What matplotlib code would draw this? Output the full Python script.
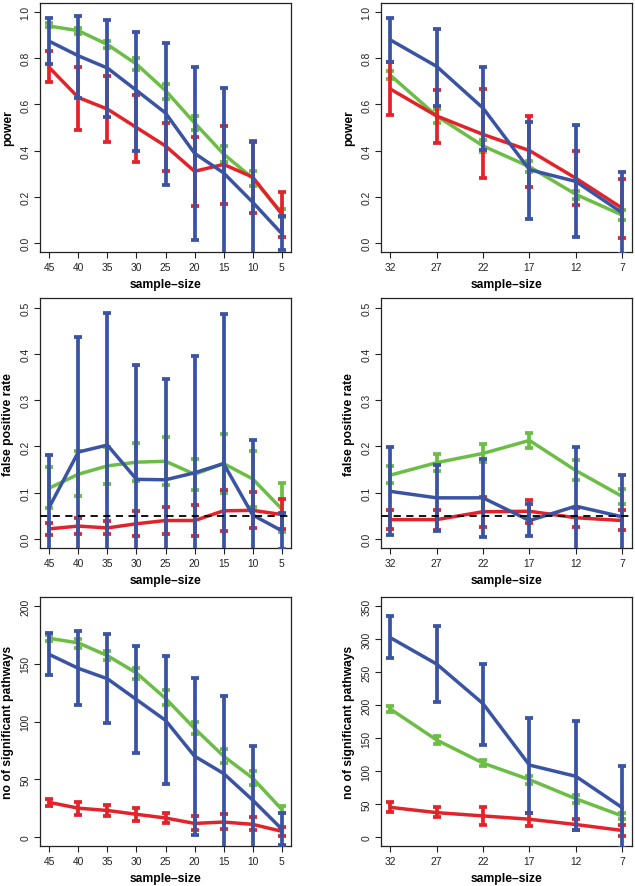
import numpy as np
import matplotlib
matplotlib.use("Agg")
import matplotlib.pyplot as plt

plt.rcParams['font.family'] = ['Liberation Sans', 'DejaVu Sans']

GREEN = '#6cbd45'
RED = '#e3232a'
BLUE = '#3a53a3'

## sample sizes ##
n_left = ['45', '40', '35', '30', '25', '20', '15', '10', '5']
n_right = ['32', '27', '22', '17', '12', '7']

## power, left ##
pwL_green = [0.94, 0.92, 0.86, 0.775, 0.66, 0.52, 0.385, 0.28, 0.13]
pwL_green_hi = [0.952, 0.93, 0.875, 0.80, 0.69, 0.55, 0.42, 0.31, 0.148]
pwL_green_lo = [0.934, 0.905, 0.845, 0.75, 0.625, 0.49, 0.35, 0.245, 0.11]
pwL_red = [0.76, 0.63, 0.58, 0.50, 0.42, 0.31, 0.34, 0.285, 0.125]
pwL_red_hi = [0.83, 0.762, 0.724, 0.639, 0.519, 0.46, 0.508, 0.44, 0.22]
pwL_red_lo = [0.696, 0.49, 0.436, 0.351, 0.313, 0.159, 0.17, 0.13, 0.023]
pwL_blue = [0.874, 0.811, 0.758, 0.661, 0.563, 0.388, 0.303, 0.176, 0.04]
pwL_blue_hi = [0.973, 0.985, 0.967, 0.915, 0.866, 0.763, 0.671, 0.436, 0.115]
pwL_blue_lo = [0.776, 0.63, 0.545, 0.40, 0.251, 0.012, -0.07, -0.085, -0.033]

## power, right ##
pwR_green = [0.727, 0.55, 0.42, 0.33, 0.21, 0.12]
pwR_green_hi = [0.745, 0.58, 0.444, 0.355, 0.225, 0.144]
pwR_green_lo = [0.711, 0.52, 0.392, 0.307, 0.192, 0.098]
pwR_red = [0.667, 0.55, 0.47, 0.40, 0.28, 0.15]
pwR_red_hi = [0.784, 0.664, 0.667, 0.548, 0.397, 0.276]
pwR_red_lo = [0.553, 0.431, 0.279, 0.244, 0.165, 0.02]
pwR_blue = [0.88, 0.765, 0.584, 0.317, 0.266, 0.13]
pwR_blue_hi = [0.973, 0.926, 0.762, 0.525, 0.51, 0.309]
pwR_blue_lo = [0.786, 0.592, 0.404, 0.105, 0.025, -0.05]

## false positive rate, left ##
fpL_green = [0.11, 0.14, 0.158, 0.166, 0.168, 0.14, 0.163, 0.13, 0.065]
fpL_green_hi = [0.155, 0.19, 0.199, 0.207, 0.221, 0.173, 0.226, 0.19, 0.12]
fpL_green_lo = [0.067, 0.092, 0.118, 0.126, 0.117, 0.106, 0.10, 0.07, 0.015]
fpL_red = [0.022, 0.028, 0.024, 0.033, 0.04, 0.04, 0.061, 0.062, 0.053]
fpL_red_hi = [0.034, 0.046, 0.038, 0.06, 0.069, 0.073, 0.105, 0.101, 0.087]
fpL_red_lo = [0.009, 0.011, 0.01, 0.006, 0.01, 0.007, 0.017, 0.023, 0.022]
fpL_blue = [0.069, 0.188, 0.203, 0.129, 0.128, 0.143, 0.163, 0.052, 0.018]
fpL_blue_hi = [0.182, 0.436, 0.488, 0.377, 0.346, 0.395, 0.486, 0.213, 0.057]
fpL_blue_lo = [-0.042, -0.06, -0.082, -0.117, -0.09, -0.109, -0.159, -0.108, -0.021]

## false positive rate, right ##
fpR_green = [0.138, 0.165, 0.185, 0.213, 0.148, 0.092]
fpR_green_hi = [0.157, 0.184, 0.205, 0.229, 0.17, 0.108]
fpR_green_lo = [0.12, 0.147, 0.166, 0.197, 0.127, 0.076]
fpR_red = [0.042, 0.042, 0.059, 0.06, 0.046, 0.04]
fpR_red_hi = [0.063, 0.063, 0.09, 0.085, 0.067, 0.062]
fpR_red_lo = [0.021, 0.02, 0.027, 0.034, 0.025, 0.019]
fpR_blue = [0.103, 0.089, 0.089, 0.04, 0.071, 0.048]
fpR_blue_hi = [0.198, 0.159, 0.173, 0.076, 0.199, 0.138]
fpR_blue_lo = [0.008, 0.018, 0.004, 0.006, -0.056, -0.042]

## no of significant pathways, left ##
nsL_green = [172, 168, 157, 142, 120, 94, 70, 51, 24]
nsL_green_hi = [175, 171, 161, 146, 127, 100, 76, 57, 27]
nsL_green_lo = [170, 164, 153, 137, 114, 89, 64, 45, 21]
nsL_red = [30, 25, 23, 19.7, 16.5, 11.8, 13, 11, 5]
nsL_red_hi = [33, 30, 28, 25, 21, 18, 20, 17, 9]
nsL_red_lo = [27, 19, 18, 14, 12, 6, 6.6, 6, 1]
nsL_blue = [158, 146, 137, 119, 101, 70, 55, 32, 7]
nsL_blue_hi = [176.6, 178.3, 175.4, 165.6, 157, 138, 122, 79, 20.5]
nsL_blue_lo = [140.5, 113.9, 98.6, 72.5, 46, 2, -12, -15, -6.6]

## no of significant pathways, right ##
nsR_green = [194, 147, 112, 87, 58, 32]
nsR_green_hi = [198, 153, 117, 93, 64, 37]
nsR_green_lo = [190, 141, 107, 81, 52, 27]
nsR_red = [45, 37, 32, 27, 19, 10]
nsR_red_hi = [53, 45, 45, 36, 27, 19]
nsR_red_lo = [38, 30, 19, 17, 10, 1]
nsR_blue = [302, 262, 202, 109, 92, 44.5]
nsR_blue_hi = [335, 320, 262, 181, 176, 107]
nsR_blue_lo = [271, 204, 140, 37, 10, -17]


fig = plt.figure(figsize=(6.35, 8.87), dpi=100)
W, H = 635.0, 887.0

def make_ax(x0, x1, y0, y1):
    # pixel box -> figure fraction
    return fig.add_axes([x0 / W, 1 - y1 / H, (x1 - x0) / W, (y1 - y0) / H])

def series(ax, x, m, lo, hi, col):
    ax.plot(x, m, color=col, lw=2.5, solid_capstyle='round', zorder=3)
    ax.errorbar(x, m, yerr=[np.array(m) - np.array(lo), np.array(hi) - np.array(m)],
                fmt='none', ecolor=col, elinewidth=2.7, capsize=3.2, capthick=2.7, zorder=3)

def panel(ax, labels, ylim, yticks, ylab, data, dashed=False):
    x = np.arange(1, len(labels) + 1)
    for m, lo, hi, col in data:
        series(ax, x, m, lo, hi, col)
    if dashed:
        ax.axhline(0.05, color='black', lw=1.3, ls=(0, (4, 3)), zorder=4)
    pad = 0.04 * (len(labels) - 1)
    ax.set_xlim(1 - pad, len(labels) + pad)
    r = ylim[1] - ylim[0]
    ax.set_ylim(ylim[0] - 0.04 * r, ylim[1] + 0.04 * r)
    ax.set_xticks(x)
    ax.set_xticklabels(labels)
    ax.set_yticks(yticks)
    ax.set_yticklabels([('%g' % t) if r > 5 else ('%.1f' % t) for t in yticks],
                       rotation=90, va='center')
    ax.tick_params(direction='out', length=4, width=0.8, labelsize=7.4,
                   colors='#222222', pad=3)
    for s in ax.spines.values():
        s.set_linewidth(0.9)
        s.set_color('#222222')
    ax.set_xlabel('sample\u2013size', fontsize=8.7, fontweight='bold')
    ax.set_ylabel(ylab, fontsize=8.7, fontweight='bold')
    ax.xaxis.set_label_coords(0.5, -26.0 / 249)
    ax.yaxis.set_label_coords(-26.0 / 251, 0.5)


rows = [(4, 253), (299.3, 549.3), (597.7, 847.3)]
cols = [(40, 291), (381, 631.5)]

ax = make_ax(cols[0][0], cols[0][1], *rows[0])
panel(ax, n_left, (0, 1), [0, 0.2, 0.4, 0.6, 0.8, 1.0], 'power',
      [(pwL_green, pwL_green_lo, pwL_green_hi, GREEN),
       (pwL_red, pwL_red_lo, pwL_red_hi, RED),
       (pwL_blue, pwL_blue_lo, pwL_blue_hi, BLUE)])

ax = make_ax(cols[1][0], cols[1][1], *rows[0])
panel(ax, n_right, (0, 1), [0, 0.2, 0.4, 0.6, 0.8, 1.0], 'power',
      [(pwR_green, pwR_green_lo, pwR_green_hi, GREEN),
       (pwR_red, pwR_red_lo, pwR_red_hi, RED),
       (pwR_blue, pwR_blue_lo, pwR_blue_hi, BLUE)])

ax = make_ax(cols[0][0], cols[0][1], *rows[1])
panel(ax, n_left, (0, 0.5), [0, 0.1, 0.2, 0.3, 0.4, 0.5], 'false positive rate',
      [(fpL_green, fpL_green_lo, fpL_green_hi, GREEN),
       (fpL_red, fpL_red_lo, fpL_red_hi, RED),
       (fpL_blue, fpL_blue_lo, fpL_blue_hi, BLUE)], dashed=True)

ax = make_ax(cols[1][0], cols[1][1], *rows[1])
panel(ax, n_right, (0, 0.5), [0, 0.1, 0.2, 0.3, 0.4, 0.5], 'false positive rate',
      [(fpR_green, fpR_green_lo, fpR_green_hi, GREEN),
       (fpR_red, fpR_red_lo, fpR_red_hi, RED),
       (fpR_blue, fpR_blue_lo, fpR_blue_hi, BLUE)], dashed=True)

ax = make_ax(cols[0][0], cols[0][1], *rows[2])
panel(ax, n_left, (0, 200), [0, 50, 100, 150, 200], 'no of significant pathways',
      [(nsL_green, nsL_green_lo, nsL_green_hi, GREEN),
       (nsL_red, nsL_red_lo, nsL_red_hi, RED),
       (nsL_blue, nsL_blue_lo, nsL_blue_hi, BLUE)])

ax = make_ax(cols[1][0], cols[1][1], *rows[2])
panel(ax, n_right, (0, 350), [0, 50, 100, 150, 200, 250, 300, 350], 'no of significant pathways',
      [(nsR_green, nsR_green_lo, nsR_green_hi, GREEN),
       (nsR_red, nsR_red_lo, nsR_red_hi, RED),
       (nsR_blue, nsR_blue_lo, nsR_blue_hi, BLUE)])

fig.savefig('out.png', dpi=100)
